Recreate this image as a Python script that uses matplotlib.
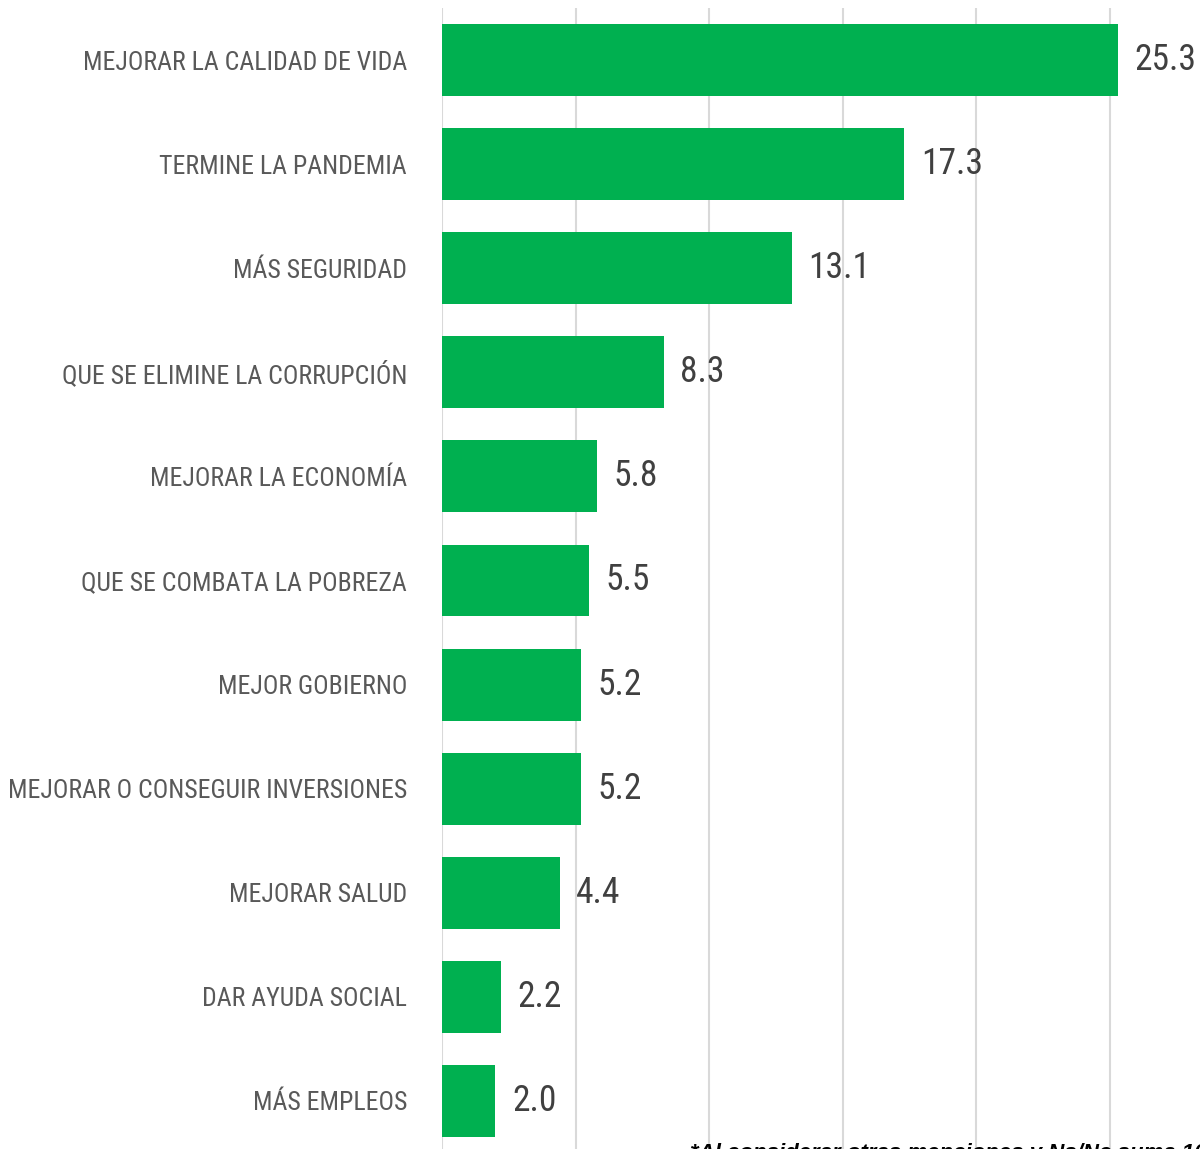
import matplotlib
matplotlib.use('Agg')
import matplotlib.pyplot as plt
from matplotlib import font_manager

categories = ['MEJORAR LA CALIDAD DE VIDA', 'TERMINE LA PANDEMIA', 'MÁS SEGURIDAD',
              'QUE SE ELIMINE LA CORRUPCIÓN', 'MEJORAR LA ECONOMÍA',
              'QUE SE COMBATA LA POBREZA', 'MEJOR GOBIERNO',
              'MEJORAR O CONSEGUIR INVERSIONES', 'MEJORAR SALUD',
              'DAR AYUDA SOCIAL', 'MÁS EMPLEOS']
values = [25.3, 17.3, 13.1, 8.3, 5.8, 5.5, 5.2, 5.2, 4.4, 2.2, 2.0]
footnote = '*Al considerar otras menciones y Ns/Nc suma 100%'

# pick a condensed face if one is installed
names = {f.name for f in font_manager.fontManager.ttflist}
narrow, stretch = 'DejaVu Sans', 'condensed'
for cand in ['Roboto Condensed', 'Open Sans Condensed', 'Liberation Sans Narrow']:
    if cand in names:
        narrow, stretch = cand, 'normal'
        break

W, H = 1200, 1149
fig = plt.figure(figsize=(W / 100, H / 100), dpi=100)
renderer = fig.canvas.get_renderer()


def fit_size(txt, width_px, **kw):
    # font size that makes txt about width_px wide
    t = fig.text(0, 0, txt, fontsize=20, **kw)
    w = t.get_window_extent(renderer).width
    t.remove()
    return 20 * width_px / w


# axes placed in pixels: x=0 at 442 px, top at 8 px, bottom just past the figure
left, right = 442, 1200
top, bottom = 8, 1153
ax = fig.add_axes([left / W, 1 - bottom / H, (right - left) / W, (bottom - top) / H])

y = list(range(len(categories)))
ax.barh(y, values, height=0.69, color='#00B050', zorder=2)
ax.set_ylim(len(categories) - 0.5, -0.5)
ax.set_xlim(0, (right - left) / 26.72)

for v in range(0, 30, 5):
    ax.axvline(v, color='#d9d9d9', lw=1.5, zorder=1)

lab_size = fit_size('MEJORAR O CONSEGUIR INVERSIONES', 397, family=narrow, fontstretch=stretch)
val_size = fit_size('25.3', 62, family=narrow, fontstretch=stretch)

for yi, v in zip(y, values):
    ax.text(v + 0.62, yi, f'{v:.1f}', va='center', ha='left', fontsize=val_size,
            family=narrow, fontstretch=stretch, color='#404040')

ax.set_yticks(y)
ax.set_yticklabels(categories, family=narrow, fontstretch=stretch,
                   fontsize=lab_size, color='#595959')
ax.tick_params(axis='y', length=0, pad=35 * 72 / 100)
ax.set_xticks([])
for s in ax.spines.values():
    s.set_visible(False)

# footnote sits on the bottom edge, cut off as in the original
fig.text(690 / W, 1 - 1143 / H, footnote, ha='left', va='top', fontsize=16,
         style='italic', weight='bold', family='Liberation Sans', color='black')

fig.savefig('out.png', dpi=100)
